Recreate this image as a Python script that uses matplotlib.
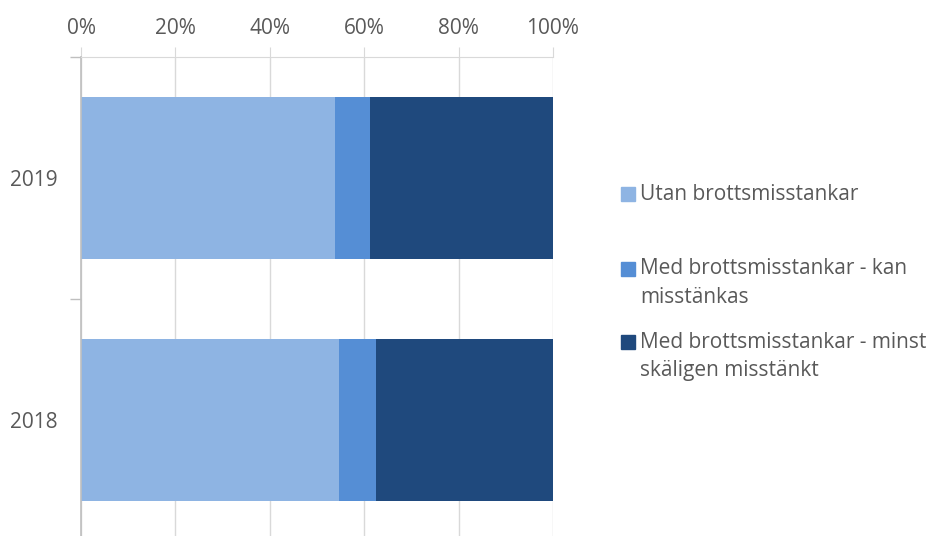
import matplotlib.pyplot as plt
from matplotlib.patches import Rectangle
from matplotlib.ticker import PercentFormatter, FixedLocator

plt.rcParams['font.family'] = ['Open Sans', 'DejaVu Sans']

# ----- Data (share of cases, %) -----
years = ['2018', '2019']
utan = [54.7, 53.9]        # Utan brottsmisstankar
kan = [7.7, 7.3]           # Med brottsmisstankar - kan misstänkas
minst = [37.6, 38.8]       # Med brottsmisstankar - minst skäligen misstänkt

labels = ['Utan brottsmisstankar',
          'Med brottsmisstankar - kan\nmisstänkas',
          'Med brottsmisstankar - minst\nskäligen misstänkt']
colors = ['#8EB4E3', '#558ED5', '#1F497D']

text_color = '#595959'
W, H = 932, 536

fig = plt.figure(figsize=(W / 100, H / 100), dpi=100)
ax = fig.add_axes([81 / W, -0.0099, 472 / W, 0.9041])

pos = list(range(len(years)))
left = [0.0] * len(years)
for vals, col in zip([utan, kan, minst], colors):
    ax.barh(pos, vals, left=left, height=0.666, color=col, zorder=2)
    left = [l + v for l, v in zip(left, vals)]

ax.set_xlim(0, 100)
ax.set_ylim(-0.5, 1.5)

# x axis on top
ax.xaxis.tick_top()
ax.set_xticks([0, 20, 40, 60, 80, 100])
ax.xaxis.set_major_formatter(PercentFormatter(100, decimals=0))
ax.tick_params(axis='x', which='major', length=7, color='#D9D9D9', pad=6,
               labelsize=15, labelcolor=text_color)
ax.grid(axis='x', color='#D9D9D9', linewidth=1, zorder=0)

# category axis: ticks between categories, labels at centres
ax.yaxis.set_major_locator(FixedLocator([-0.5, 0.5, 1.5]))
ax.yaxis.set_major_formatter(plt.NullFormatter())
ax.yaxis.set_minor_locator(FixedLocator(pos))
ax.set_yticklabels(years, minor=True)
ax.tick_params(axis='y', which='major', length=8, color='#BFBFBF', width=1)
ax.tick_params(axis='y', which='minor', length=0, pad=16.5,
               labelsize=15, labelcolor=text_color)

for side in ['right', 'bottom']:
    ax.spines[side].set_visible(False)
ax.spines['top'].set_color('#D9D9D9')
ax.spines['left'].set_color('#BFBFBF')
ax.spines['left'].set_linewidth(1.2)

# ----- Legend (drawn by hand, Excel style) -----
entry_y = [194, 269, 342]
line_gap = 28.5
for lab, col, yc in zip(labels, colors, entry_y):
    fig.patches.append(Rectangle((621 / W, 1 - (yc + 7) / H), 14 / W, 14 / H,
                                 transform=fig.transFigure, color=col))
    for i, line in enumerate(lab.split('\n')):
        fig.text(640 / W, 1 - (yc + i * line_gap) / H, line, fontsize=15,
                 color=text_color, va='center', ha='left')

fig.savefig('out.png', dpi=100)
